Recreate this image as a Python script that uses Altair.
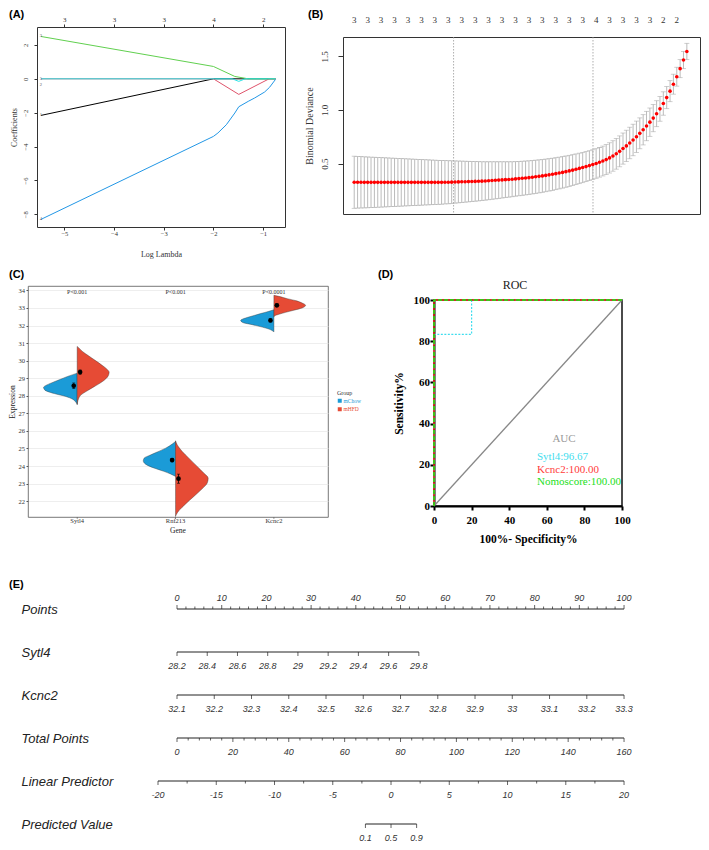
import math
import altair as alt
import pandas as pd

SERIF = "Liberation Serif"
SANS = "Liberation Sans"

# ======================= DATA =======================
# ---- (A) LASSO coefficient paths (log lambda, coefficient) ----
a_series = ["1", "2", "3", "4", "5"]
a_colors = ["#000000", "#DF536B", "#61D04F", "#2297E6", "#28E2E5"]
a_path_x = {
    "1": [-5.47, -2.00, -0.75],
    "2": [-5.47, -2.00, -1.49, -0.88, -0.75],
    "3": [-5.47, -2.00, -1.57, -1.30, -0.75],
    "4": [-5.47, -2.00, -1.91, -1.74, -1.57, -1.49, -1.30, -1.17, -0.97, -0.87, -0.75],
    "5": [-5.47, -1.62, -1.49, -1.36, -0.75],
}
a_path_y = {
    "1": [-2.16, 0.00, 0.00],
    "2": [0.00, 0.00, -0.92, 0.00, 0.00],
    "3": [2.50, 0.73, 0.14, 0.00, 0.00],
    "4": [-8.30, -3.40, -3.20, -2.71, -2.02, -1.65, -1.33, -1.13, -0.78, -0.50, -0.03],
    "5": [0.00, 0.00, -0.15, 0.00, 0.00],
}
a_top_vals = [-5, -4, -3, -2, -1]
a_top_labels = ["3", "3", "3", "4", "2"]

# ---- (B) cross-validation curve ----
b_lam = [-5.390, -5.343, -5.296, -5.249, -5.202, -5.155, -5.108, -5.061, -5.014, -4.967,
         -4.920, -4.873, -4.826, -4.779, -4.732, -4.685, -4.638, -4.591, -4.544, -4.497,
         -4.450, -4.403, -4.356, -4.309, -4.262, -4.215, -4.168, -4.121, -4.074, -4.027,
         -3.980, -3.933, -3.886, -3.839, -3.792, -3.745, -3.698, -3.651, -3.604, -3.557,
         -3.510, -3.463, -3.416, -3.369, -3.322, -3.275, -3.228, -3.181, -3.134, -3.087,
         -3.040, -2.993, -2.946, -2.899, -2.852, -2.805, -2.758, -2.711, -2.664, -2.617,
         -2.570, -2.523, -2.476, -2.429, -2.382, -2.335, -2.288, -2.241, -2.194, -2.147,
         -2.100, -2.053, -2.006, -1.959, -1.912, -1.865, -1.818, -1.771, -1.724, -1.677,
         -1.630, -1.583, -1.536, -1.489, -1.442, -1.395, -1.348, -1.301, -1.254, -1.207,
         -1.160, -1.113, -1.066, -1.019, -0.972, -0.925, -0.878, -0.831, -0.784, -0.737]
b_cvm = [0.326, 0.326, 0.326, 0.325, 0.325, 0.325, 0.325, 0.325, 0.325, 0.325,
         0.325, 0.325, 0.325, 0.325, 0.325, 0.325, 0.325, 0.325, 0.325, 0.325,
         0.325, 0.325, 0.325, 0.325, 0.325, 0.325, 0.325, 0.326, 0.326, 0.327,
         0.328, 0.329, 0.330, 0.331, 0.332, 0.333, 0.334, 0.335, 0.336, 0.338,
         0.340, 0.342, 0.344, 0.346, 0.348, 0.350, 0.352, 0.354, 0.357, 0.360,
         0.363, 0.366, 0.369, 0.373, 0.377, 0.381, 0.385, 0.390, 0.395, 0.400,
         0.406, 0.412, 0.418, 0.425, 0.432, 0.439, 0.447, 0.455, 0.463, 0.472,
         0.481, 0.491, 0.501, 0.512, 0.524, 0.537, 0.553, 0.571, 0.591, 0.614,
         0.640, 0.665, 0.692, 0.720, 0.750, 0.782, 0.815, 0.850, 0.886, 0.924,
         0.965, 1.010, 1.060, 1.115, 1.175, 1.240, 1.310, 1.385, 1.465, 1.545]
b_sd = [0.243, 0.241, 0.240, 0.238, 0.237, 0.235, 0.234, 0.232, 0.231, 0.229,
        0.228, 0.226, 0.225, 0.223, 0.222, 0.220, 0.219, 0.217, 0.216, 0.214,
        0.213, 0.211, 0.210, 0.208, 0.207, 0.205, 0.204, 0.202, 0.201, 0.199,
        0.197, 0.195, 0.193, 0.191, 0.189, 0.187, 0.185, 0.183, 0.181, 0.179,
        0.177, 0.175, 0.173, 0.171, 0.169, 0.167, 0.165, 0.163, 0.161, 0.160,
        0.159, 0.158, 0.157, 0.156, 0.155, 0.154, 0.153, 0.152, 0.151, 0.150,
        0.149, 0.148, 0.147, 0.146, 0.145, 0.144, 0.143, 0.142, 0.141, 0.140,
        0.139, 0.138, 0.138, 0.138, 0.139, 0.140, 0.141, 0.142, 0.143, 0.144,
        0.145, 0.146, 0.147, 0.147, 0.146, 0.144, 0.141, 0.137, 0.132, 0.127,
        0.121, 0.115, 0.109, 0.103, 0.098, 0.093, 0.088, 0.084, 0.080, 0.076]
b_nzero = ["3", "3", "3", "3", "3", "3", "3", "3", "3", "3", "3", "3", "3", "3", "3",
           "3", "3", "3", "4", "3", "3", "3", "3", "2", "2"]
b_vlines = [-4.00, -2.05]

# ---- (C) split violins ----
c_genes = ["Sytl4", "Rnf213", "Kcnc2"]
c_groups = ["mChow", "mHFD"]
c_colors = ["#1B9BD7", "#E64B35"]
c_violin = {
    ("Sytl4", "mChow"): ([27.53, 27.64, 27.81, 27.96, 28.13, 28.32, 28.48, 28.59, 28.72, 28.91, 29.10, 29.29],
                         [0.0, 0.014, 0.047, 0.115, 0.234, 0.328, 0.342, 0.318, 0.267, 0.183, 0.098, 0.0]),
    ("Sytl4", "mHFD"): ([27.48, 27.82, 28.04, 28.27, 28.52, 28.81, 29.13, 29.34, 29.53, 29.72, 29.99, 30.29, 30.52, 30.71, 30.81],
                        [0.0, 0.013, 0.037, 0.098, 0.173, 0.257, 0.315, 0.325, 0.300, 0.257, 0.190, 0.112, 0.054, 0.020, 0.0]),
    ("Rnf213", "mChow"): ([23.41, 23.55, 23.70, 23.89, 24.11, 24.30, 24.46, 24.59, 24.80, 25.02, 25.25, 25.40],
                          [0.0, 0.051, 0.119, 0.220, 0.305, 0.328, 0.318, 0.271, 0.186, 0.100, 0.034, 0.0]),
    ("Rnf213", "mHFD"): ([21.13, 21.23, 21.46, 21.83, 22.27, 22.71, 23.03, 23.31, 23.60, 23.98, 24.45, 24.83, 25.21, 25.44],
                         [0.0, 0.007, 0.034, 0.100, 0.186, 0.271, 0.322, 0.332, 0.287, 0.220, 0.135, 0.068, 0.017, 0.0]),
    ("Kcnc2", "mChow"): ([31.63, 31.67, 31.80, 31.91, 32.05, 32.16, 32.29, 32.43, 32.54, 32.68, 32.81, 32.90],
                         [0.0, 0.007, 0.051, 0.119, 0.220, 0.311, 0.338, 0.287, 0.220, 0.135, 0.050, 0.0]),
    ("Kcnc2", "mHFD"): ([32.50, 32.55, 32.64, 32.75, 32.87, 33.00, 33.15, 33.28, 33.42, 33.53, 33.66, 33.72],
                        [0.0, 0.007, 0.051, 0.119, 0.203, 0.287, 0.322, 0.287, 0.220, 0.135, 0.050, 0.0]),
}
c_mean = {("Sytl4", "mChow"): 28.57, ("Sytl4", "mHFD"): 29.35,
          ("Rnf213", "mChow"): 24.34, ("Rnf213", "mHFD"): 23.28,
          ("Kcnc2", "mChow"): 32.29, ("Kcnc2", "mHFD"): 33.15}
c_err = {("Sytl4", "mChow"): 0.16, ("Sytl4", "mHFD"): 0.12,
         ("Rnf213", "mChow"): 0.10, ("Rnf213", "mHFD"): 0.26,
         ("Kcnc2", "mChow"): 0.08, ("Kcnc2", "mHFD"): 0.08}
c_dodge = {"mChow": -0.035, "mHFD": 0.03}
c_pvals = ["P<0.001", "P<0.001", "P<0.0001"]

# ---- (D) ROC curves ----
d_curves = ["diag", "Sytl4", "Kcnc2", "Nomoscore"]
d_fpr = {"diag": [0, 100], "Sytl4": [0, 0, 20, 20, 100], "Kcnc2": [0, 0, 100], "Nomoscore": [0, 0, 100]}
d_tpr = {"diag": [0, 100], "Sytl4": [0, 83.33, 83.33, 100, 100], "Kcnc2": [0, 100, 100], "Nomoscore": [0, 100, 100]}
d_auc_text = ["Sytl4:96.67", "Kcnc2:100.00", "Nomoscore:100.00"]
d_auc_color = ["#3FDDEE", "#FF3B3B", "#22E022"]

# ---- (E) nomogram ----
e_names = ["Points", "Sytl4", "Kcnc2", "Total Points", "Linear Predictor", "Predicted Value"]
e_pts_major = [0, 10, 20, 30, 40, 50, 60, 70, 80, 90, 100]
e_sytl4_vals = [28.2, 28.4, 28.6, 28.8, 29.0, 29.2, 29.4, 29.6, 29.8]
e_sytl4_labels = ["28.2", "28.4", "28.6", "28.8", "29", "29.2", "29.4", "29.6", "29.8"]
e_sytl4_span = (28.2, 29.8, 0.0, 54.1)       # value range -> points range
e_kcnc2_vals = [32.1, 32.2, 32.3, 32.4, 32.5, 32.6, 32.7, 32.8, 32.9, 33.0, 33.1, 33.2, 33.3]
e_kcnc2_labels = ["32.1", "32.2", "32.3", "32.4", "32.5", "32.6", "32.7", "32.8", "32.9", "33", "33.1", "33.2", "33.3"]
e_kcnc2_span = (32.1, 33.3, 0.0, 100.0)
e_total_major = [0, 20, 40, 60, 80, 100, 120, 140, 160]
e_total_span = (0, 160, 0.0, 100.0)
e_lp_major = [-20, -15, -10, -5, 0, 5, 10, 15, 20]
e_lp_minor = [-17.5, -12.5, -7.5, -2.5, 2.5, 7.5, 12.5, 17.5]
e_lp_span = (-20, 20, -4.25, 100.0)
e_pred_vals = [0.1, 0.5, 0.9]
e_pred_labels = ["0.1", "0.5", "0.9"]


# ======================= HELPERS =======================
def axis(**kw):
    base = dict(grid=False, labelFlush=False, labelOverlap=False, domain=False)
    base.update(kw)
    return alt.Axis(**base)


def note(txt, dx, dy, **style):
    return alt.Chart(pd.DataFrame({"t": [txt]})).mark_text(**style).encode(
        x=alt.value(dx), y=alt.value(dy), text="t:N")


def panel_label(txt, dx, dy):
    return note(txt, dx, dy, align="left", baseline="top", font=SANS,
                fontWeight="bold", fontSize=11, color="#000000")


def spacer(w, h=1):
    return alt.Chart(pd.DataFrame({"t": [""]})).mark_text().encode(text="t:N").properties(
        width=w, height=h, view=alt.ViewBackground(stroke="transparent"))


# ======================= (A) =======================
a_rows = []
for s in a_series:
    for k, (x, y) in enumerate(zip(a_path_x[s], a_path_y[s])):
        a_rows.append({"var": s, "lam": x, "coef": y, "k": k})
a_df = pd.DataFrame(a_rows)
a_start = a_df[a_df.k == 0]

xA = alt.Scale(domain=[-5.55, -0.56], nice=False, zero=False)
yA = alt.Scale(domain=[-8.75, 3.06], nice=False, zero=False)
a_txt = dict(labelFont=SERIF, labelColor="#333333", titleFont=SERIF, titleFontWeight="normal",
             titleColor="#333333", tickColor="#333333")
A_x = alt.X("lam:Q", scale=xA, axis=axis(values=a_top_vals, format="d", title="Log Lambda", tickSize=3,
                                         labelPadding=0.5, labelFontSize=6.5, titleFontSize=8,
                                         titlePadding=9, minExtent=14, maxExtent=14, **a_txt))
a_top_expr = " : ".join(f"datum.value == {v} ? '{l}'" for v, l in zip(a_top_vals, a_top_labels)) + " : ''"
A_xtop = alt.X("lam:Q", scale=xA, axis=axis(orient="top", values=a_top_vals, labelExpr=a_top_expr, title=None,
                                            tickSize=3, labelPadding=2, labelFontSize=7, **a_txt))
A_y = alt.Y("coef:Q", scale=yA, axis=axis(values=[-8, -6, -4, -2, 0, 2], format="d", title="Coefficients",
                                          tickSize=3, labelAngle=270, labelAlign="center", labelBaseline="bottom",
                                          labelPadding=6, labelFontSize=6.5, titleFontSize=8, titlePadding=3,
                                          minExtent=16, maxExtent=16, **a_txt))
a_lines = alt.Chart(a_df).mark_line(strokeWidth=1).encode(
    x=A_x, y=A_y, order="k:Q",
    color=alt.Color("var:N", scale=alt.Scale(domain=a_series, range=a_colors), legend=None))
a_lab1 = alt.Chart(a_start[a_start["var"] != "2"]).mark_text(
    font=SERIF, fontSize=4.5, align="right", dx=1, color="#555555").encode(x=A_xtop, y=A_y, text="var:N")
a_lab2 = alt.Chart(a_start[a_start["var"] == "2"]).mark_text(
    font=SERIF, fontSize=4.5, align="right", dx=1, dy=6, color="#555555").encode(
    x=alt.X("lam:Q", scale=xA, axis=None), y=A_y, text="var:N")
chartA = alt.layer(a_lines, a_lab1, a_lab2, panel_label("(A)", -28, -18)).resolve_axis(
    x="independent").properties(width=248, height=200,
                                view=alt.ViewBackground(stroke="#333333", strokeWidth=1))

# ======================= (B) =======================
b_df = pd.DataFrame({"lam": b_lam, "cvm": b_cvm, "sd": b_sd})
b_df["lo"] = b_df.cvm - b_df.sd
b_df["hi"] = b_df.cvm + b_df.sd
b_top = pd.DataFrame({"lam": b_lam[::4], "nz": b_nzero})

xB = alt.Scale(domain=[-5.547, -0.553], nice=False, zero=False)
yB = alt.Scale(domain=[0.03, 1.68], nice=False, zero=False)
b_axx = axis(values=[-5, -4, -3, -2, -1], format="d", title="Log(λ)", tickSize=5, labelPadding=7.5,
             labelFontSize=9, titleFontSize=10, titlePadding=7, minExtent=24, maxExtent=24, **a_txt)
b_axy = axis(values=[0.5, 1.0, 1.5], format=".1f", title="Binomial Deviance", tickSize=5, labelAngle=270,
             labelAlign="center", labelBaseline="bottom", labelPadding=9, labelFontSize=9,
             titleFontSize=10, titlePadding=7, minExtent=22, maxExtent=22, **a_txt)
B_x = alt.X("lam:Q", scale=xB, axis=b_axx)


def B_y(f):
    return alt.Y(f"{f}:Q", scale=yB, axis=b_axy)


grey = "#A9A9A9"
b_err = alt.Chart(b_df).mark_rule(color=grey, strokeWidth=0.8).encode(x=B_x, y=B_y("lo"), y2="hi:Q")
b_cap_lo = alt.Chart(b_df).mark_tick(orient="horizontal", size=5, thickness=0.8, color=grey).encode(x=B_x, y=B_y("lo"))
b_cap_hi = alt.Chart(b_df).mark_tick(orient="horizontal", size=5, thickness=0.8, color=grey).encode(x=B_x, y=B_y("hi"))
b_vl = alt.Chart(pd.DataFrame({"v": b_vlines})).mark_rule(
    color="#999999", strokeDash=[1.5, 1.5], strokeWidth=0.8).encode(x=alt.X("v:Q", scale=xB, axis=None))
b_pts = alt.Chart(b_df).mark_circle(size=13, color="#FF0000", opacity=1).encode(x=B_x, y=B_y("cvm"))
b_toplab = alt.Chart(b_top).mark_text(font=SERIF, fontSize=9, color="#333333", baseline="middle").encode(
    x=alt.X("lam:Q", scale=xB, axis=None), y=alt.value(-17), text="nz:N")
chartB = alt.layer(b_vl, b_err, b_cap_lo, b_cap_hi, b_pts, b_toplab, panel_label("(B)", -35, -28)).properties(
    width=357, height=177, view=alt.ViewBackground(stroke="#333333", strokeWidth=1))

# ======================= (C) =======================
C_W, C_H = 300, 231
v_rows, m_rows = [], []
for gi, g in enumerate(c_genes):
    for grp in c_groups:
        ex, ws = c_violin[(g, grp)]
        for e, w in zip(ex, ws):
            v_rows.append({"gene": g, "group": grp, "key": g + grp, "expr": e, "pos": gi + 1,
                           "edge": gi + 1 - w if grp == "mChow" else gi + 1 + w})
        m = c_mean[(g, grp)]
        s = c_err[(g, grp)]
        m_rows.append({"gene": g, "group": grp, "x": gi + 1 + c_dodge[grp], "mean": m, "lo": m - s, "hi": m + s})
v_df = pd.DataFrame(v_rows)
m_df = pd.DataFrame(m_rows)
p_df = pd.DataFrame({"pos": [1, 2, 3], "p": c_pvals})
g_df = pd.DataFrame({"pos": [1, 2, 3], "gene": c_genes})

xC = alt.Scale(domain=[0.5, 3.55], nice=False, zero=False)
yC = alt.Scale(domain=[21.1, 34.25], nice=False, zero=False)
c_axy = axis(values=list(range(22, 35)), format="d", title="Expression", tickSize=2, tickColor="#555555",
             labelPadding=1.5, labelFont=SERIF, labelFontSize=6.5, labelColor="#333333", titleFont=SERIF,
             titleFontSize=7.5, titleFontWeight="normal", titleColor="#222222", titlePadding=2,
             minExtent=9.5, maxExtent=9.5, grid=True, gridColor="#E6E6E6", gridWidth=0.7)


def C_xn(f):
    return alt.X(f"{f}:Q", scale=xC, axis=None)


def C_y(f):
    return alt.Y(f"{f}:Q", scale=yC, axis=c_axy)


legend_color = "datum.label == 'mChow' ? '%s' : '%s'" % (c_colors[0], c_colors[1])
c_area = alt.Chart(v_df).mark_area(orient="horizontal", interpolate="monotone", stroke="#333333",
                                   strokeWidth=0.4, opacity=1).encode(
    y=C_y("expr"), x=C_xn("edge"), x2="pos:Q", detail="key:N",
    color=alt.Color("group:N", scale=alt.Scale(domain=c_groups, range=c_colors),
                    legend=alt.Legend(orient="none", legendX=328, legendY=104, title="Group",
                                      titleFont=SERIF, titleFontSize=6, titleFontWeight="normal",
                                      titleColor="#333333", titlePadding=2, labelFont=SERIF,
                                      labelFontSize=5.5, labelOffset=1,
                                      labelColor=alt.ExprRef(expr=legend_color),
                                      symbolType="square", symbolSize=16, symbolStrokeWidth=0,
                                      rowPadding=1.5, padding=0)))
# gene (category) axis: ticks, labels and title below the panel
c_ticks = alt.Chart(g_df).mark_tick(orient="vertical", size=2, thickness=0.8, yOffset=1,
                                    color="#555555").encode(x=C_xn("pos"), y=alt.value(C_H))
c_glab = alt.Chart(g_df).mark_text(font=SERIF, fontSize=6.5, color="#333333", baseline="top").encode(
    x=C_xn("pos"), y=alt.value(C_H + 1), text="gene:N")
c_gtitle = note("Gene", C_W / 2, C_H + 10, font=SERIF, fontSize=7.5, color="#222222",
                align="center", baseline="top")
c_bar = alt.Chart(m_df).mark_rule(color="#000000", strokeWidth=0.8).encode(x=C_xn("x"), y=C_y("lo"), y2="hi:Q")
c_cap1 = alt.Chart(m_df).mark_tick(orient="horizontal", size=3, thickness=0.8, color="#000000").encode(x=C_xn("x"), y=C_y("lo"))
c_cap2 = alt.Chart(m_df).mark_tick(orient="horizontal", size=3, thickness=0.8, color="#000000").encode(x=C_xn("x"), y=C_y("hi"))
c_dot = alt.Chart(m_df).mark_circle(size=22, color="#000000", opacity=1).encode(x=C_xn("x"), y=C_y("mean"))
c_p = alt.Chart(p_df).mark_text(font=SERIF, fontSize=6, color="#333333", baseline="middle").encode(
    x=C_xn("pos"), y=alt.value(6), text="p:N")
chartC = alt.layer(c_area, c_bar, c_cap1, c_cap2, c_dot, c_p, c_ticks, c_glab, c_gtitle,
                   panel_label("(C)", -19, -17)).properties(
    width=C_W, height=C_H, view=alt.ViewBackground(stroke="#555555", strokeWidth=0.8))

# ======================= (D) =======================
d_rows = []
for c in d_curves:
    for k, (fx, ty) in enumerate(zip(d_fpr[c], d_tpr[c])):
        d_rows.append({"curve": c, "fpr": fx, "tpr": ty, "k": k})
d_df = pd.DataFrame(d_rows)
sD = alt.Scale(domain=[0, 100], nice=False, zero=False)
d_common = dict(domain=True, domainColor="#000000", domainWidth=2, tickColor="#000000", tickWidth=2,
                tickSize=4, labelFont=SERIF, labelFontWeight="bold", labelFontSize=11, labelColor="#000000",
                titleFont=SERIF, titleFontWeight="bold", titleFontSize=11.5, titleColor="#000000",
                values=[0, 20, 40, 60, 80, 100], format="d")
D_x = alt.X("fpr:Q", scale=sD, axis=axis(title="100%- Specificity%", labelPadding=4.5, titlePadding=7,
                                         minExtent=20, maxExtent=20, **d_common))
D_y = alt.Y("tpr:Q", scale=sD, axis=axis(title="Sensitivity%", labelPadding=0.5, titlePadding=6,
                                         minExtent=24, maxExtent=24, **d_common))


def roc_line(c, color, dash=None, width=1.5):
    kw = dict(color=color, strokeWidth=width)
    if dash:
        kw["strokeDash"] = dash
    return alt.Chart(d_df[d_df.curve == c]).mark_line(**kw).encode(x=D_x, y=D_y, order="k:Q")


d_layers = [
    roc_line("diag", "#888888", width=1.3),
    roc_line("Sytl4", "#3FDDEE", dash=[2, 1.5], width=1.2),
    roc_line("Kcnc2", "#FF2020"),
    roc_line("Nomoscore", "#11EE11", dash=[4, 2]),
    note("ROC", 81, -15, font=SERIF, fontSize=12, align="center", baseline="middle", color="#222222"),
    note("AUC", 130, 139, font=SERIF, fontSize=11, align="center", baseline="middle", color="#9A9A9A"),
]
for i, (t, col) in enumerate(zip(d_auc_text, d_auc_color)):
    d_layers.append(note(t, 103, 157 + 12.5 * i, font=SERIF, fontSize=11, align="left",
                         baseline="middle", color=col))
d_layers.append(panel_label("(D)", -56, -31))
chartD = alt.layer(*d_layers).properties(width=188, height=206,
                                         view=alt.ViewBackground(stroke="#111111", strokeWidth=1.5))

# ======================= (E) =======================
def lin(v, span):
    v0, v1, p0, p1 = span
    return p0 + (v - v0) / (v1 - v0) * (p1 - p0)


e_lines, e_ticks, e_labels = [], [], []
# row 0: Points
e_lines.append({"row": 0, "x0": 0, "x1": 100})
for v in range(0, 101, 2):
    e_ticks.append({"row": 0, "pos": v, "kind": "up_major" if v % 10 == 0 else "up_minor"})
for v in e_pts_major:
    e_labels.append({"row": 0, "pos": v, "t": str(v), "side": "above"})
# row 1: Sytl4
e_lines.append({"row": 1, "x0": lin(e_sytl4_vals[0], e_sytl4_span), "x1": lin(e_sytl4_vals[-1], e_sytl4_span)})
for v, l in zip(e_sytl4_vals, e_sytl4_labels):
    p = lin(v, e_sytl4_span)
    e_ticks.append({"row": 1, "pos": p, "kind": "down_major"})
    e_labels.append({"row": 1, "pos": p, "t": l, "side": "below"})
# row 2: Kcnc2
e_lines.append({"row": 2, "x0": 0, "x1": 100})
for v, l in zip(e_kcnc2_vals, e_kcnc2_labels):
    p = lin(v, e_kcnc2_span)
    e_ticks.append({"row": 2, "pos": p, "kind": "down_major"})
    e_labels.append({"row": 2, "pos": p, "t": l, "side": "below"})
# row 3: Total Points
e_lines.append({"row": 3, "x0": 0, "x1": 100})
for v in range(0, 161, 4):
    e_ticks.append({"row": 3, "pos": lin(v, e_total_span), "kind": "down_major" if v % 20 == 0 else "down_minor"})
for v in e_total_major:
    e_labels.append({"row": 3, "pos": lin(v, e_total_span), "t": str(v), "side": "below"})
# row 4: Linear Predictor
e_lines.append({"row": 4, "x0": lin(-20, e_lp_span), "x1": lin(20, e_lp_span)})
for v in e_lp_major:
    e_ticks.append({"row": 4, "pos": lin(v, e_lp_span), "kind": "down_major"})
    e_labels.append({"row": 4, "pos": lin(v, e_lp_span), "t": str(v), "side": "below"})
for v in e_lp_minor:
    e_ticks.append({"row": 4, "pos": lin(v, e_lp_span), "kind": "down_minor"})
# row 5: Predicted Value (logit scale of the linear predictor)
pp = [lin(math.log(p / (1 - p)), e_lp_span) for p in e_pred_vals]
e_lines.append({"row": 5, "x0": pp[0], "x1": pp[-1]})
for p, l in zip(pp, e_pred_labels):
    e_ticks.append({"row": 5, "pos": p, "kind": "down_major"})
    e_labels.append({"row": 5, "pos": p, "t": l, "side": "below"})

el_df = pd.DataFrame(e_lines)
et_df = pd.DataFrame(e_ticks)
ex_df = pd.DataFrame(e_labels)

xE = alt.Scale(domain=[-4.474, 102.9], nice=False, zero=False)
yE = alt.Scale(domain=[-1.4884, 5.3953], reverse=True, nice=False, zero=False)
row_expr = "[" + ", ".join(f"'{n}'" for n in e_names) + "][datum.value]"
E_y = alt.Y("row:Q", scale=yE, axis=axis(values=[0, 1, 2, 3, 4, 5], labelExpr=row_expr, title=None, ticks=False,
                                         tickSize=0, labelAlign="left", labelBaseline="middle", labelPadding=136,
                                         labelFont=SANS, labelFontStyle="italic", labelFontSize=13,
                                         labelColor="#222222"))


def E_x(f):
    return alt.X(f"{f}:Q", scale=xE, axis=None)


ink = "#222222"
e_layers = [alt.Chart(el_df).mark_rule(color=ink, strokeWidth=1).encode(x=E_x("x0"), x2="x1:Q", y=E_y)]
for kind, size, off in [("up_major", 4, -2), ("up_minor", 2.5, -1.25), ("down_major", 4, 2), ("down_minor", 2.5, 1.25)]:
    e_layers.append(alt.Chart(et_df[et_df.kind == kind]).mark_tick(
        orient="vertical", size=size, thickness=1, yOffset=off, color=ink).encode(x=E_x("pos"), y=E_y))
for side, dy in [("above", -11), ("below", 14)]:
    e_layers.append(alt.Chart(ex_df[ex_df.side == side]).mark_text(
        font=SANS, fontStyle="italic", fontSize=9, color="#333333", dy=dy, baseline="middle").encode(
        x=E_x("pos"), y=E_y, text="t:N"))
e_layers.append(panel_label("(E)", -148, 34))
chartE = alt.layer(*e_layers).properties(width=480, height=296,
                                         view=alt.ViewBackground(stroke="transparent"))

# ======================= LAYOUT =======================
# flush layouts: positions follow only the declared sizes; invisible spacers give the offsets
FL = dict(spacing=0, bounds="flush")
colB = alt.vconcat(spacer(1, 10), chartB, **FL)
colD = alt.vconcat(spacer(1, 14), chartD, **FL)
row1 = alt.hconcat(spacer(28), chartA, spacer(58), colB, **FL)
row2 = alt.hconcat(spacer(19), chartC, spacer(106), colD, **FL)
row3 = alt.hconcat(spacer(148), chartE, **FL)
chart = alt.vconcat(row1, row2, row3, spacing=259, bounds="flush", padding=0).resolve_scale(
    color="independent")

chart.save("out.html", embed_options={"renderer": "svg", "actions": False})
